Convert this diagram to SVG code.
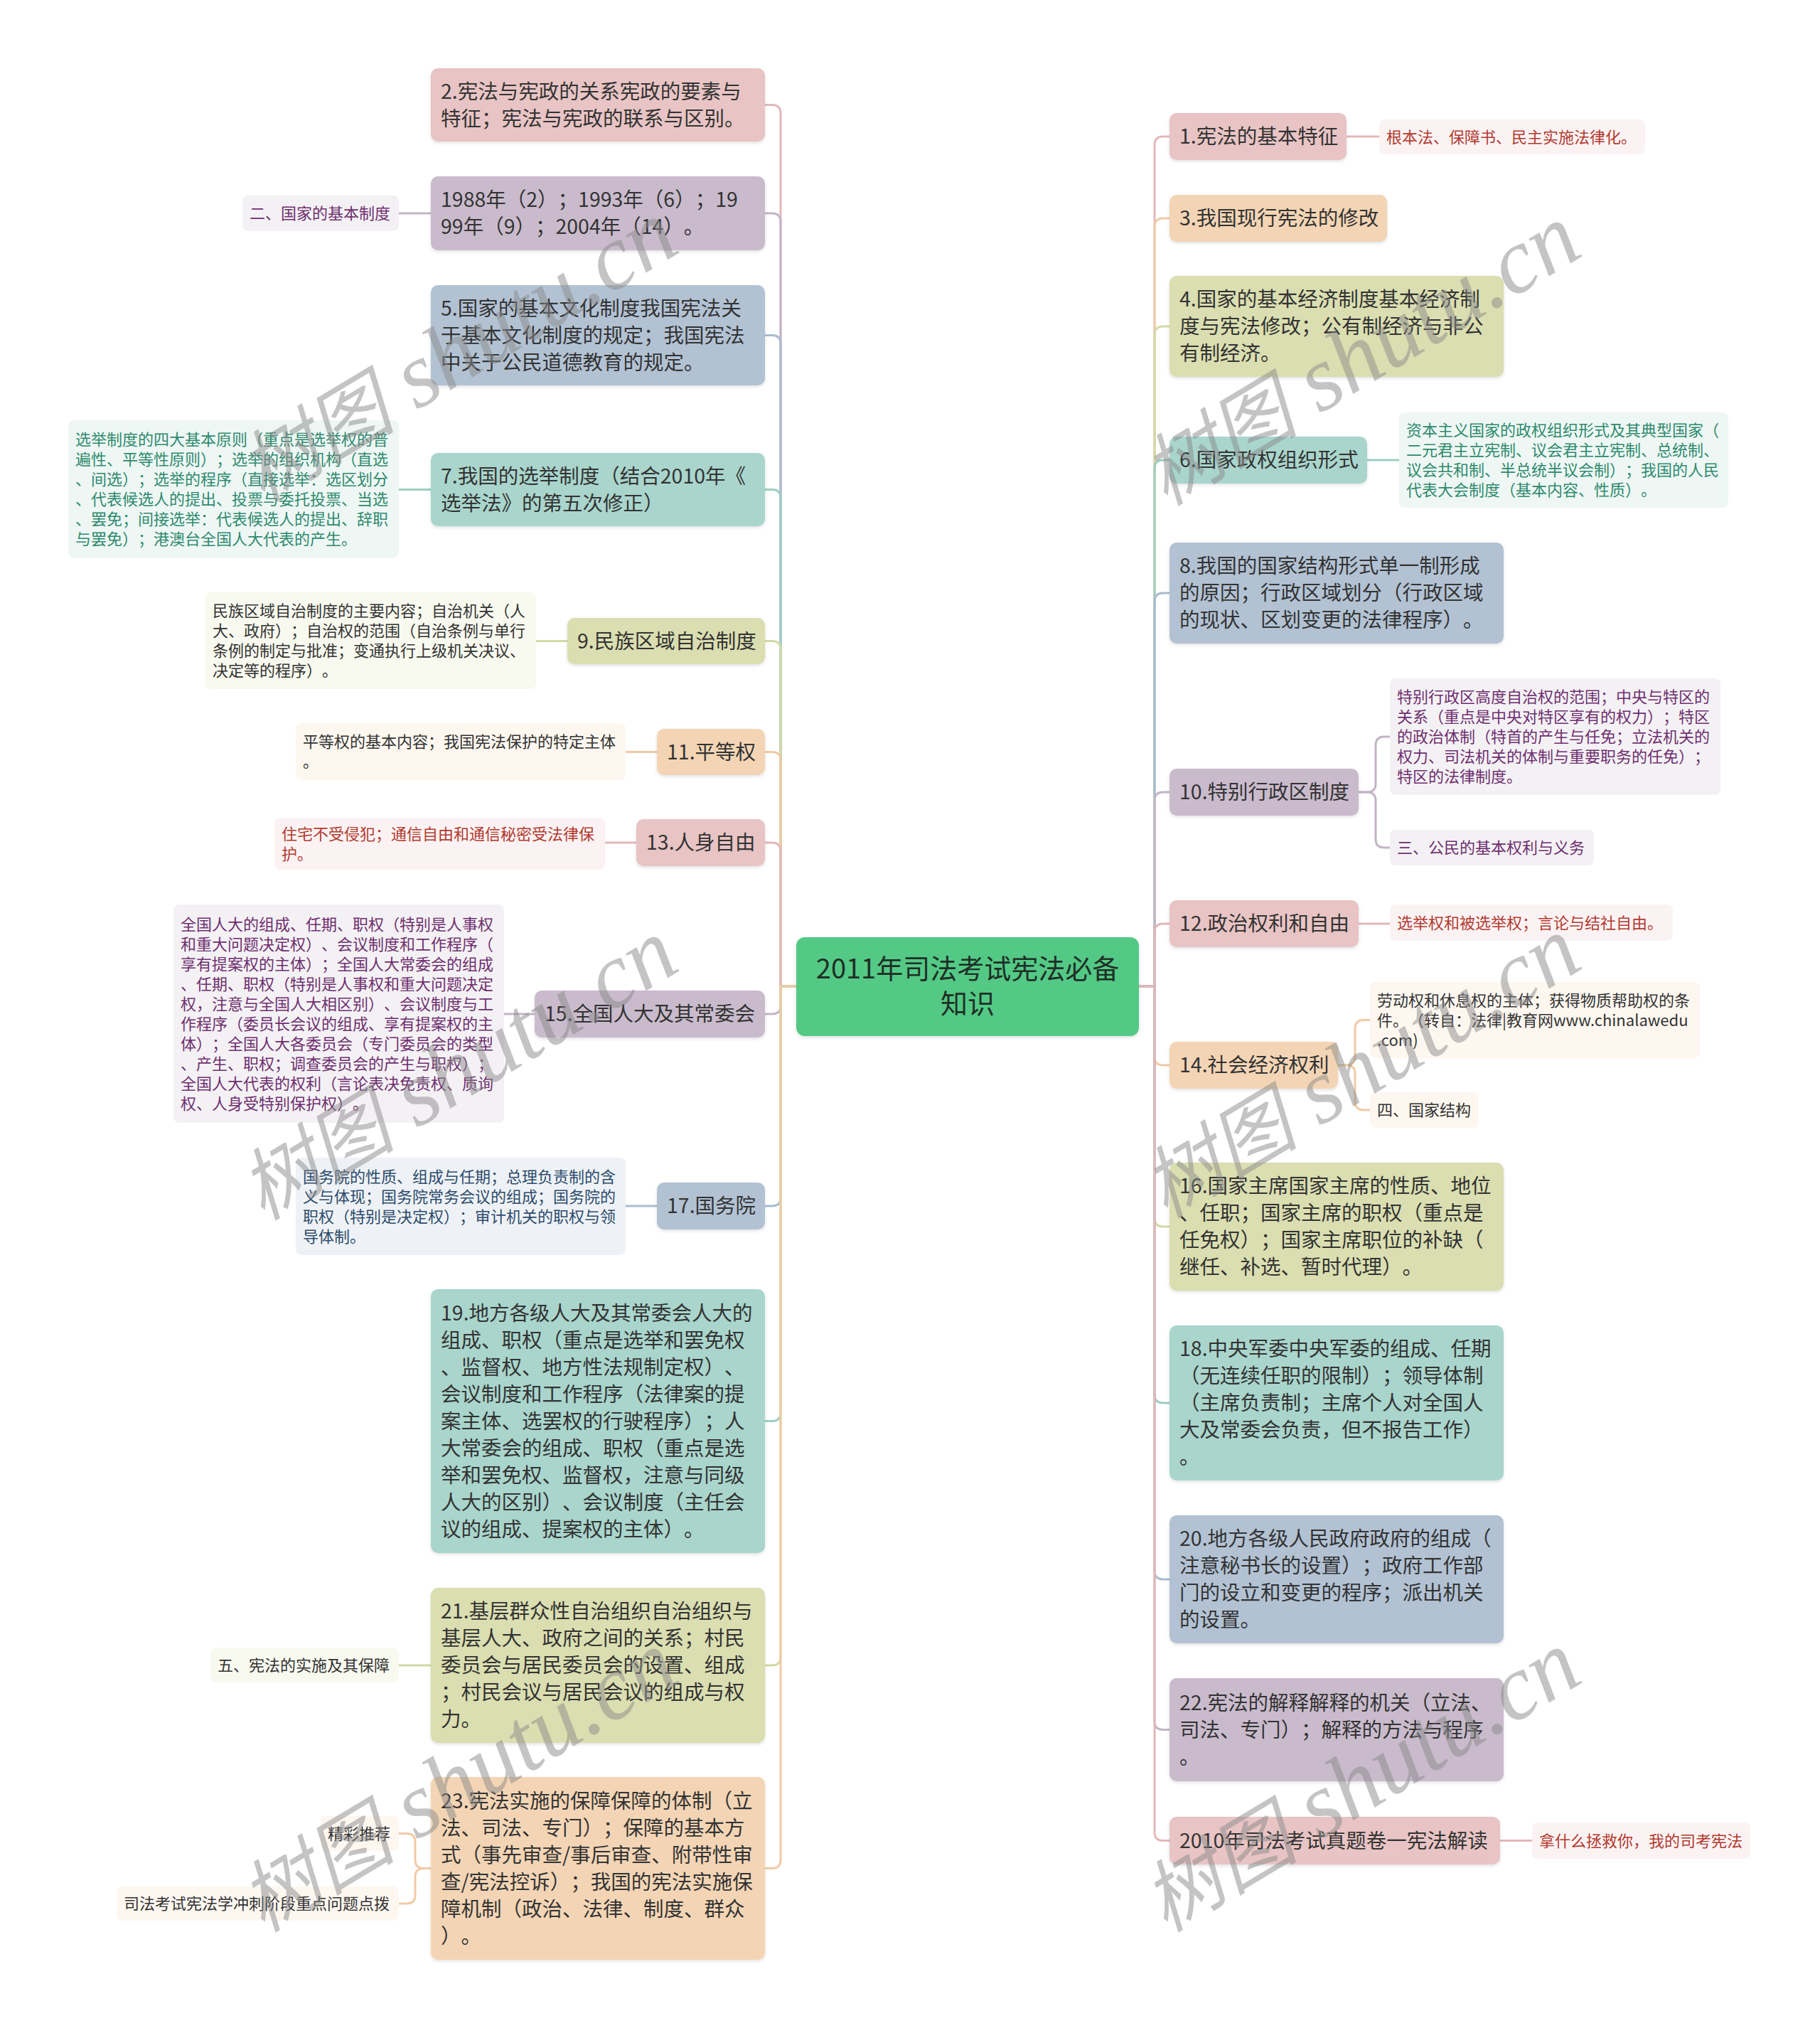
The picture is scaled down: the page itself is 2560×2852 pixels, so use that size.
<svg xmlns="http://www.w3.org/2000/svg" width="2560" height="2852" viewBox="0 0 2560 2852">
<defs>
<filter id="sh" x="-5%" y="-5%" width="110%" height="120%">
<feDropShadow dx="0" dy="2" stdDeviation="2" flood-color="#000" flood-opacity="0.12"/>
</filter>
</defs>
<style>
text{font-family:"Noto Sans CJK SC","Noto Sans",sans-serif;text-spacing-trim:space-all}
.m{font-size:28.5px;fill:#333}
.c{font-size:22px}
.ct{font-size:38px;fill:#1f2f26;text-anchor:middle}
.pk{fill:#e8c4c4}.pe{fill:#f3d5b5}.ol{fill:#dadeb0}.te{fill:#a9d5cc}.bl{fill:#b2c2d3}.mv{fill:#c9bbcc}
.cpk{fill:#fbf3f3}.cpe{fill:#fdf7f0}.col{fill:#f8f9ef}.cte{fill:#eef7f4}.cbl{fill:#eef2f6}.cmv{fill:#f4f1f5}
.tr{fill:#b23a30}.tt{fill:#2f8a6e}.tp{fill:#6e2f6e}.td{fill:#333}.tb{fill:#2d4b6b}
.l{fill:none;stroke-width:3}
.lpk{stroke:#e3b8b8}.lpe{stroke:#f0cba6}.lol{stroke:#d4d9a4}.lte{stroke:#9ccfc4}.lbl{stroke:#a9bccf}.lmv{stroke:#c3b4c6}
.wm{font-family:"Liberation Serif","Noto Sans CJK SC",serif;font-style:italic;font-size:130px;fill:#8a8a8a;fill-opacity:0.5;text-anchor:middle}
.wz{font-family:"Noto Sans CJK SC",serif;font-size:110px;font-style:italic}
</style>
<rect width="2560" height="2852" fill="#fff"/>

<g id="connectors">
<path class="l lpk" d="M1120,1387 H1098 V159.5 Q1098,147.5 1086,147.5 H1076"/>
<path class="l lmv" d="M1120,1387 H1098 V312 Q1098,300 1086,300 H1076"/>
<path class="l lbl" d="M1120,1387 H1098 V483.5 Q1098,471.5 1086,471.5 H1076"/>
<path class="l lte" d="M1120,1387 H1098 V700.5 Q1098,688.5 1086,688.5 H1076"/>
<path class="l lol" d="M1120,1387 H1098 V913.5 Q1098,901.5 1086,901.5 H1076"/>
<path class="l lpe" d="M1120,1387 H1098 V1069.5 Q1098,1057.5 1086,1057.5 H1076"/>
<path class="l lpk" d="M1120,1387 H1098 V1197 Q1098,1185 1086,1185 H1076"/>
<path class="l lmv" d="M1120,1387 H1098 V1414 Q1098,1426 1086,1426 H1076"/>
<path class="l lbl" d="M1120,1387 H1098 V1684 Q1098,1696 1086,1696 H1076"/>
<path class="l lte" d="M1120,1387 H1098 V1986.5 Q1098,1998.5 1086,1998.5 H1076"/>
<path class="l lol" d="M1120,1387 H1098 V2330 Q1098,2342 1086,2342 H1076"/>
<path class="l lpe" d="M1120,1387 H1098 V2615.5 Q1098,2627.5 1086,2627.5 H1076"/>
<path class="l lpk" d="M1601,1387 H1624 V204 Q1624,192 1636,192 H1645"/>
<path class="l lpe" d="M1601,1387 H1624 V319 Q1624,307 1636,307 H1645"/>
<path class="l lol" d="M1601,1387 H1624 V471 Q1624,459 1636,459 H1645"/>
<path class="l lte" d="M1601,1387 H1624 V659 Q1624,647 1636,647 H1645"/>
<path class="l lbl" d="M1601,1387 H1624 V846 Q1624,834 1636,834 H1645"/>
<path class="l lmv" d="M1601,1387 H1624 V1126 Q1624,1114 1636,1114 H1645"/>
<path class="l lpk" d="M1601,1387 H1624 V1311 Q1624,1299 1636,1299 H1645"/>
<path class="l lpe" d="M1601,1387 H1624 V1486 Q1624,1498 1636,1498 H1645"/>
<path class="l lol" d="M1601,1387 H1624 V1713 Q1624,1725 1636,1725 H1645"/>
<path class="l lte" d="M1601,1387 H1624 V1961 Q1624,1973 1636,1973 H1645"/>
<path class="l lbl" d="M1601,1387 H1624 V2209 Q1624,2221 1636,2221 H1645"/>
<path class="l lmv" d="M1601,1387 H1624 V2420.5 Q1624,2432.5 1636,2432.5 H1645"/>
<path class="l lpk" d="M1601,1387 H1624 V2576.5 Q1624,2588.5 1636,2588.5 H1645"/>
<path class="l lmv" d="M606,300 H561"/>
<path class="l lte" d="M606,688.5 H561"/>
<path class="l lol" d="M798,901.5 H754"/>
<path class="l lpe" d="M924,1057.5 H880"/>
<path class="l lpk" d="M895,1185 H851"/>
<path class="l lmv" d="M752,1426 H709"/>
<path class="l lbl" d="M924,1696 H880"/>
<path class="l lol" d="M606,2342 H561"/>
<path class="l lpe" d="M606,2627.5 H596 Q584,2627.5 584,2615.5 V2590.5 Q584,2578.5 572,2578.5 H561"/>
<path class="l lpe" d="M606,2627.5 H596 Q584,2627.5 584,2639.5 V2665 Q584,2677 572,2677 H561"/>
<path class="l lpk" d="M1894,192 H1940"/>
<path class="l lte" d="M1923,647 H1968"/>
<path class="l lmv" d="M1911,1114 H1923 Q1935,1114 1935,1102 V1048 Q1935,1036 1947,1036 H1955"/>
<path class="l lmv" d="M1911,1114 H1923 Q1935,1114 1935,1126 V1180 Q1935,1192 1947,1192 H1955"/>
<path class="l lpk" d="M1911,1299 H1955"/>
<path class="l lpe" d="M1882,1498 H1894 Q1906,1498 1906,1486 V1446.5 Q1906,1434.5 1918,1434.5 H1927"/>
<path class="l lpe" d="M1882,1498 H1894 Q1906,1498 1906,1510 V1549 Q1906,1561 1918,1561 H1927"/>
<path class="l lpk" d="M2110,2588.5 H2155"/>
</g>

<g id="center">
<rect x="1120" y="1318" width="482" height="139" rx="12" fill="#52c985" filter="url(#sh)"/>
<text class="ct" x="1361" y="1376">2011年司法考试宪法必备</text>
<text class="ct" x="1361" y="1425">知识</text>
</g>

<g id="n2">
<rect class="pk" x="606" y="96" width="470" height="103" rx="10" filter="url(#sh)"/>
<text class="m" x="620" y="138.5">2.宪法与宪政的关系宪政的要素与</text>
<text class="m" x="620" y="176.5">特征；宪法与宪政的联系与区别。</text>
</g>
<g id="n1988">
<rect class="mv" x="606" y="248" width="470" height="104" rx="10" filter="url(#sh)"/>
<text class="m" x="620" y="291">1988年（2）；1993年（6）；19</text>
<text class="m" x="620" y="329">99年（9）；2004年（14）。</text>
</g>
<g id="c1988">
<rect class="cmv" x="341" y="275" width="220" height="50" rx="8"/>
<text class="c tp" x="351" y="308">二、国家的基本制度</text>
</g>
<g id="n5">
<rect class="bl" x="606" y="401" width="470" height="141" rx="10" filter="url(#sh)"/>
<text class="m" x="620" y="443.5">5.国家的基本文化制度我国宪法关</text>
<text class="m" x="620" y="481.5">于基本文化制度的规定；我国宪法</text>
<text class="m" x="620" y="519.5">中关于公民道德教育的规定。</text>
</g>
<g id="n7">
<rect class="te" x="606" y="637" width="470" height="103" rx="10" filter="url(#sh)"/>
<text class="m" x="620" y="679.5">7.我国的选举制度（结合2010年《</text>
<text class="m" x="620" y="717.5">选举法》的第五次修正）</text>
</g>
<g id="c7">
<rect class="cte" x="96" y="591" width="465" height="194" rx="8"/>
<text class="c tt" x="106" y="626">选举制度的四大基本原则（重点是选举权的普</text>
<text class="c tt" x="106" y="654">遍性、平等性原则）；选举的组织机构（直选</text>
<text class="c tt" x="106" y="682">、间选）；选举的程序（直接选举：选区划分</text>
<text class="c tt" x="106" y="710">、代表候选人的提出、投票与委托投票、当选</text>
<text class="c tt" x="106" y="738">、罢免；间接选举：代表候选人的提出、辞职</text>
<text class="c tt" x="106" y="766">与罢免）；港澳台全国人大代表的产生。</text>
</g>
<g id="n9">
<rect class="ol" x="798" y="869" width="278" height="65" rx="10" filter="url(#sh)"/>
<text class="m" x="812" y="911.5">9.民族区域自治制度</text>
</g>
<g id="c9">
<rect class="col" x="289" y="833" width="465" height="136" rx="8"/>
<text class="c td" x="299" y="867">民族区域自治制度的主要内容；自治机关（人</text>
<text class="c td" x="299" y="895">大、政府）；自治权的范围（自治条例与单行</text>
<text class="c td" x="299" y="923">条例的制定与批准；变通执行上级机关决议、</text>
<text class="c td" x="299" y="951">决定等的程序）。</text>
</g>
<g id="n11">
<rect class="pe" x="924" y="1025" width="152" height="65" rx="10" filter="url(#sh)"/>
<text class="m" x="938" y="1067.5">11.平等权</text>
</g>
<g id="c11">
<rect class="cpe" x="416" y="1017" width="464" height="80" rx="8"/>
<text class="c td" x="426" y="1051">平等权的基本内容；我国宪法保护的特定主体</text>
<text class="c td" x="426" y="1079">。</text>
</g>
<g id="n13">
<rect class="pk" x="895" y="1152" width="181" height="66" rx="10" filter="url(#sh)"/>
<text class="m" x="909" y="1195">13.人身自由</text>
</g>
<g id="c13">
<rect class="cpk" x="386" y="1150" width="465" height="73" rx="8"/>
<text class="c tr" x="396" y="1180.5">住宅不受侵犯；通信自由和通信秘密受法律保</text>
<text class="c tr" x="396" y="1208.5">护。</text>
</g>
<g id="n15">
<rect class="mv" x="752" y="1393" width="324" height="66" rx="10" filter="url(#sh)"/>
<text class="m" x="766" y="1436">15.全国人大及其常委会</text>
</g>
<g id="c15">
<rect class="cmv" x="244" y="1272" width="465" height="307" rx="8"/>
<text class="c tp" x="254" y="1307.5">全国人大的组成、任期、职权（特别是人事权</text>
<text class="c tp" x="254" y="1335.5">和重大问题决定权）、会议制度和工作程序（</text>
<text class="c tp" x="254" y="1363.5">享有提案权的主体）；全国人大常委会的组成</text>
<text class="c tp" x="254" y="1391.5">、任期、职权（特别是人事权和重大问题决定</text>
<text class="c tp" x="254" y="1419.5">权，注意与全国人大相区别）、会议制度与工</text>
<text class="c tp" x="254" y="1447.5">作程序（委员长会议的组成、享有提案权的主</text>
<text class="c tp" x="254" y="1475.5">体）；全国人大各委员会（专门委员会的类型</text>
<text class="c tp" x="254" y="1503.5">、产生、职权；调查委员会的产生与职权）；</text>
<text class="c tp" x="254" y="1531.5">全国人大代表的权利（言论表决免责权、质询</text>
<text class="c tp" x="254" y="1559.5">权、人身受特别保护权）。</text>
</g>
<g id="n17">
<rect class="bl" x="924" y="1663" width="152" height="66" rx="10" filter="url(#sh)"/>
<text class="m" x="938" y="1706">17.国务院</text>
</g>
<g id="c17">
<rect class="cbl" x="416" y="1628" width="464" height="137" rx="8"/>
<text class="c tb" x="426" y="1662.5">国务院的性质、组成与任期；总理负责制的含</text>
<text class="c tb" x="426" y="1690.5">义与体现；国务院常务会议的组成；国务院的</text>
<text class="c tb" x="426" y="1718.5">职权（特别是决定权）；审计机关的职权与领</text>
<text class="c tb" x="426" y="1746.5">导体制。</text>
</g>
<g id="n19">
<rect class="te" x="606" y="1813" width="470" height="371" rx="10" filter="url(#sh)"/>
<text class="m" x="620" y="1856.5">19.地方各级人大及其常委会人大的</text>
<text class="m" x="620" y="1894.5">组成、职权（重点是选举和罢免权</text>
<text class="m" x="620" y="1932.5">、监督权、地方性法规制定权）、</text>
<text class="m" x="620" y="1970.5">会议制度和工作程序（法律案的提</text>
<text class="m" x="620" y="2008.5">案主体、选罢权的行驶程序）；人</text>
<text class="m" x="620" y="2046.5">大常委会的组成、职权（重点是选</text>
<text class="m" x="620" y="2084.5">举和罢免权、监督权，注意与同级</text>
<text class="m" x="620" y="2122.5">人大的区别）、会议制度（主任会</text>
<text class="m" x="620" y="2160.5">议的组成、提案权的主体）。</text>
</g>
<g id="n21">
<rect class="ol" x="606" y="2233" width="470" height="218" rx="10" filter="url(#sh)"/>
<text class="m" x="620" y="2276">21.基层群众性自治组织自治组织与</text>
<text class="m" x="620" y="2314">基层人大、政府之间的关系；村民</text>
<text class="m" x="620" y="2352">委员会与居民委员会的设置、组成</text>
<text class="m" x="620" y="2390">；村民会议与居民会议的组成与权</text>
<text class="m" x="620" y="2428">力。</text>
</g>
<g id="c21">
<rect class="col" x="296" y="2317" width="265" height="49" rx="8"/>
<text class="c td" x="306" y="2349.5">五、宪法的实施及其保障</text>
</g>
<g id="n23">
<rect class="pe" x="606" y="2499" width="470" height="257" rx="10" filter="url(#sh)"/>
<text class="m" x="620" y="2542.5">23.宪法实施的保障保障的体制（立</text>
<text class="m" x="620" y="2580.5">法、司法、专门）；保障的基本方</text>
<text class="m" x="620" y="2618.5">式（事先审查/事后审查、附带性审</text>
<text class="m" x="620" y="2656.5">查/宪法控诉）；我国的宪法实施保</text>
<text class="m" x="620" y="2694.5">障机制（政治、法律、制度、群众</text>
<text class="m" x="620" y="2732.5">）。</text>
</g>
<g id="c23a">
<rect class="cpe" x="451" y="2554" width="110" height="49" rx="8"/>
<text class="c td" x="461" y="2586.5">精彩推荐</text>
</g>
<g id="c23b">
<rect class="cpe" x="164" y="2653" width="397" height="48" rx="8"/>
<text class="c td" x="174" y="2685">司法考试宪法学冲刺阶段重点问题点拨</text>
</g>

<g id="n1">
<rect class="pk" x="1645" y="159" width="249" height="66" rx="10" filter="url(#sh)"/>
<text class="m" x="1659" y="202">1.宪法的基本特征</text>
</g>
<g id="c1">
<rect class="cpk" x="1940" y="168" width="374" height="49" rx="8"/>
<text class="c tr" x="1950" y="200.5">根本法、保障书、民主实施法律化。</text>
</g>
<g id="n3">
<rect class="pe" x="1645" y="274" width="306" height="66" rx="10" filter="url(#sh)"/>
<text class="m" x="1659" y="317">3.我国现行宪法的修改</text>
</g>
<g id="n4">
<rect class="ol" x="1645" y="388" width="470" height="142" rx="10" filter="url(#sh)"/>
<text class="m" x="1659" y="431">4.国家的基本经济制度基本经济制</text>
<text class="m" x="1659" y="469">度与宪法修改；公有制经济与非公</text>
<text class="m" x="1659" y="507">有制经济。</text>
</g>
<g id="n6">
<rect class="te" x="1645" y="614" width="278" height="66" rx="10" filter="url(#sh)"/>
<text class="m" x="1659" y="657">6.国家政权组织形式</text>
</g>
<g id="c6">
<rect class="cte" x="1968" y="580" width="463" height="134" rx="8"/>
<text class="c tt" x="1978" y="613">资本主义国家的政权组织形式及其典型国家（</text>
<text class="c tt" x="1978" y="641">二元君主立宪制、议会君主立宪制、总统制、</text>
<text class="c tt" x="1978" y="669">议会共和制、半总统半议会制）；我国的人民</text>
<text class="c tt" x="1978" y="697">代表大会制度（基本内容、性质）。</text>
</g>
<g id="n8">
<rect class="bl" x="1645" y="763" width="470" height="142" rx="10" filter="url(#sh)"/>
<text class="m" x="1659" y="806">8.我国的国家结构形式单一制形成</text>
<text class="m" x="1659" y="844">的原因；行政区域划分（行政区域</text>
<text class="m" x="1659" y="882">的现状、区划变更的法律程序）。</text>
</g>
<g id="n10">
<rect class="mv" x="1645" y="1081" width="266" height="66" rx="10" filter="url(#sh)"/>
<text class="m" x="1659" y="1124">10.特别行政区制度</text>
</g>
<g id="c10a">
<rect class="cmv" x="1955" y="954" width="465" height="164" rx="8"/>
<text class="c tp" x="1965" y="988">特别行政区高度自治权的范围；中央与特区的</text>
<text class="c tp" x="1965" y="1016">关系（重点是中央对特区享有的权力）；特区</text>
<text class="c tp" x="1965" y="1044">的政治体制（特首的产生与任免；立法机关的</text>
<text class="c tp" x="1965" y="1072">权力、司法机关的体制与重要职务的任免）；</text>
<text class="c tp" x="1965" y="1100">特区的法律制度。</text>
</g>
<g id="c10b">
<rect class="cmv" x="1955" y="1167" width="287" height="50" rx="8"/>
<text class="c tp" x="1965" y="1200">三、公民的基本权利与义务</text>
</g>
<g id="n12">
<rect class="pk" x="1645" y="1266" width="266" height="66" rx="10" filter="url(#sh)"/>
<text class="m" x="1659" y="1309">12.政治权利和自由</text>
</g>
<g id="c12">
<rect class="cpk" x="1955" y="1272" width="398" height="51" rx="8"/>
<text class="c tr" x="1965" y="1305.5">选举权和被选举权；言论与结社自由。</text>
</g>
<g id="n14">
<rect class="pe" x="1645" y="1465" width="237" height="66" rx="10" filter="url(#sh)"/>
<text class="m" x="1659" y="1508">14.社会经济权利</text>
</g>
<g id="c14a">
<rect class="cpe" x="1927" y="1381" width="464" height="107" rx="8"/>
<text class="c td" x="1937" y="1414.5">劳动权和休息权的主体；获得物质帮助权的条</text>
<text class="c td" x="1937" y="1442.5">件。（转自：法律|教育网www.chinalawedu</text>
<text class="c td" x="1937" y="1470.5">.com)</text>
</g>
<g id="c14b">
<rect class="cpe" x="1927" y="1536" width="153" height="50" rx="8"/>
<text class="c td" x="1937" y="1569">四、国家结构</text>
</g>
<g id="n16">
<rect class="ol" x="1645" y="1635" width="470" height="180" rx="10" filter="url(#sh)"/>
<text class="m" x="1659" y="1678">16.国家主席国家主席的性质、地位</text>
<text class="m" x="1659" y="1716">、任职；国家主席的职权（重点是</text>
<text class="m" x="1659" y="1754">任免权）；国家主席职位的补缺（</text>
<text class="m" x="1659" y="1792">继任、补选、暂时代理）。</text>
</g>
<g id="n18">
<rect class="te" x="1645" y="1864" width="470" height="218" rx="10" filter="url(#sh)"/>
<text class="m" x="1659" y="1907">18.中央军委中央军委的组成、任期</text>
<text class="m" x="1659" y="1945">（无连续任职的限制）；领导体制</text>
<text class="m" x="1659" y="1983">（主席负责制；主席个人对全国人</text>
<text class="m" x="1659" y="2021">大及常委会负责，但不报告工作）</text>
<text class="m" x="1659" y="2059">。</text>
</g>
<g id="n20">
<rect class="bl" x="1645" y="2131" width="470" height="180" rx="10" filter="url(#sh)"/>
<text class="m" x="1659" y="2174">20.地方各级人民政府政府的组成（</text>
<text class="m" x="1659" y="2212">注意秘书长的设置）；政府工作部</text>
<text class="m" x="1659" y="2250">门的设立和变更的程序；派出机关</text>
<text class="m" x="1659" y="2288">的设置。</text>
</g>
<g id="n22">
<rect class="mv" x="1645" y="2360" width="470" height="145" rx="10" filter="url(#sh)"/>
<text class="m" x="1659" y="2404.5">22.宪法的解释解释的机关（立法、</text>
<text class="m" x="1659" y="2442.5">司法、专门）；解释的方法与程序</text>
<text class="m" x="1659" y="2480.5">。</text>
</g>
<g id="n2010">
<rect class="pk" x="1645" y="2555" width="465" height="67" rx="10" filter="url(#sh)"/>
<text class="m" x="1659" y="2598.5">2010年司法考试真题卷一宪法解读</text>
</g>
<g id="c2010">
<rect class="cpk" x="2155" y="2563" width="307" height="51" rx="8"/>
<text class="c tr" x="2165" y="2596.5">拿什么拯救你，我的司考宪法</text>
</g>

<g id="watermarks">
<text class="wm" transform="translate(665,530) rotate(-31)"><tspan class="wz">树图</tspan> shutu.cn</text>
<text class="wm" transform="translate(1935,535) rotate(-31)"><tspan class="wz">树图</tspan> shutu.cn</text>
<text class="wm" transform="translate(665,1540) rotate(-31)"><tspan class="wz">树图</tspan> shutu.cn</text>
<text class="wm" transform="translate(1935,1537) rotate(-31)"><tspan class="wz">树图</tspan> shutu.cn</text>
<text class="wm" transform="translate(665,2541) rotate(-31)"><tspan class="wz">树图</tspan> shutu.cn</text>
<text class="wm" transform="translate(1935,2541) rotate(-31)"><tspan class="wz">树图</tspan> shutu.cn</text>
</g>
</svg>
